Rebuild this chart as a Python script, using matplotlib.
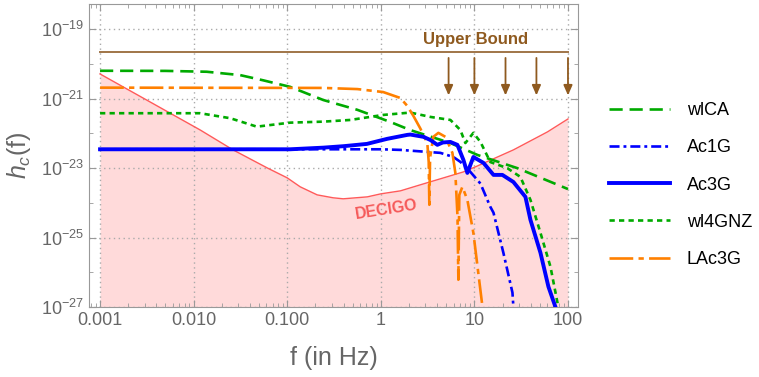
import matplotlib
matplotlib.use('Agg')
from matplotlib import pyplot as plt
from matplotlib.ticker import LogLocator, NullFormatter

plt.rcParams['font.family'] = ['Liberation Sans', 'DejaVu Sans']
plt.rcParams['mathtext.fontset'] = 'custom'
plt.rcParams['mathtext.rm'] = 'Liberation Sans'
plt.rcParams['mathtext.it'] = 'Liberation Sans:italic'
plt.rcParams['mathtext.bf'] = 'Liberation Sans:bold'

# Characteristic strain h_c(f).
wlca_f = [0.001, 0.005, 0.0138, 0.0314, 0.0553, 0.1076, 0.2427, 0.561, 1.26, 2.07, 5.54, 10.8, 28.8, 100]
wlca_h = [6.4e-21, 6.35e-21, 6.0e-21, 4.8e-21, 3.4e-21, 2.2e-21, 9.2e-22, 4.8e-22, 2.15e-22, 1.25e-22,
          5.3e-23, 2.4e-23, 1.0e-23, 2.5e-24]

ac1g_f = [0.001, 0.1, 1.0, 1.62, 4.33, 5.96, 7.08, 9.06, 11.6, 14.8, 16.0, 20.4, 25.5, 26.1, 27.0]
ac1g_h = [3.5e-23, 3.5e-23, 3.5e-23, 3.36e-23, 2.76e-23, 2.1e-23, 1.52e-23, 7.8e-24, 3.6e-24, 7.7e-25,
          5.2e-25, 3.65e-26, 2.6e-27, 1.0e-27, 4e-28]

ac3g_f = [0.001, 0.1076, 0.2427, 0.4, 0.71, 1.17, 1.92, 2.07, 2.85, 3.38, 4.02, 4.6, 5.54, 6.58, 7.63,
          8.41, 9.75, 12.5, 16.0, 19.9, 26.1, 35.1, 39.7, 50.8, 61.8, 73.5, 76.0]
ac3g_h = [3.5e-23, 3.5e-23, 3.9e-23, 4.3e-23, 5.0e-23, 7.0e-23, 9.1e-23, 9.3e-23, 8.0e-23, 6.5e-23,
          4.7e-23, 5.5e-23, 5.7e-23, 4.7e-23, 1.73e-23, 7.3e-24, 2.1e-23, 1.42e-23, 6.4e-24, 6.4e-24,
          4.0e-24, 1.49e-24, 3.25e-25, 3.65e-26, 3.84e-27, 1.0e-27, 5e-28]

wl4gnz_f = [0.001, 0.0117, 0.0246, 0.0473, 0.1076, 0.2427, 0.472, 1.06, 2.07, 3.38, 5.54, 7.08, 8.01,
            9.75, 11.6, 14.8, 22.5, 31.0, 39.7, 50.8, 65.0, 77.2, 80.0]
wl4gnz_h = [3.83e-22, 3.83e-22, 2.75e-22, 1.57e-22, 2.05e-22, 2.19e-22, 2.45e-22, 3.42e-22, 4.0e-22,
            3.0e-22, 2.45e-22, 1.26e-22, 5.3e-23, 1.04e-22, 5.7e-23, 1.5e-23, 1.0e-23, 5.6e-24,
            1.22e-24, 1.37e-25, 1.44e-26, 1.33e-27, 5e-28]

lac3g_f = [0.001, 0.2427, 0.561, 1.06, 1.62, 1.92, 2.23, 2.64, 3.14, 3.25, 3.30, 3.36, 3.64, 4.12, 4.90,
           5.82, 6.26, 6.6, 6.74, 6.9, 7.44, 8.41, 9.75, 11.0, 12.2, 12.5]
lac3g_h = [2.09e-21, 2.05e-21, 1.9e-21, 1.56e-21, 1.05e-21, 6.2e-22, 3.2e-22, 1.4e-22, 5.3e-23,
           1.5e-23, 8.8e-25, 2.0e-23, 8.0e-23, 1.04e-22, 8.0e-23, 2.76e-23, 7.3e-24, 4e-25, 6.1e-27,
           1.7e-24, 2.9e-24, 1.22e-24, 1.37e-25, 9.7e-27, 1.0e-27, 5e-28]

decigo_f = [0.001, 0.01175, 0.0264, 0.061, 0.1, 0.1377, 0.209, 0.31, 0.397, 0.718, 1.0, 1.62, 2.64,
            7.63, 10.25, 26.1, 60.4, 100]
decigo_h = [5.18e-21, 1.26e-22, 3.36e-23, 1.02e-23, 5.26e-24, 2.9e-24, 1.7e-24, 1.4e-24, 1.31e-24,
            1.49e-24, 1.82e-24, 2.22e-24, 3.31e-24, 7.8e-24, 1.09e-23, 3.36e-23, 1.11e-22, 2.62e-22]

bound_f = [0.001, 100]
bound_h = [2.2e-20, 2.2e-20]
arrow_f = [5.3, 10, 21.5, 46, 100]
arrow_top = 1.5e-20
arrow_tip = 1.25e-21

x_ticks = [0.001, 0.01, 0.1, 1, 10, 100]
x_tick_labels = ['0.001', '0.010', '0.100', '1', '10', '100']
y_ticks = [1e-27, 1e-25, 1e-23, 1e-21, 1e-19]
y_tick_labels = [r'$10^{-27}$', r'$10^{-25}$', r'$10^{-23}$', r'$10^{-21}$', r'$10^{-19}$']

gray = '#666666'
green = '#00AA00'
blue = '#0000FF'
orange = '#FF8000'
brown_line = '#A07548'
brown_text = '#8F5A1F'

fig = plt.figure(figsize=(7.59, 3.77), dpi=100)
ax = fig.add_axes([89 / 759, 1 - 307 / 377, (578 - 89) / 759, (307 - 4) / 377])
ax.set_xscale('log')
ax.set_yscale('log')

# DECIGO sensitivity band
ax.fill_between(decigo_f, decigo_h, 1e-29, color='#FFDADA', lw=0, zorder=1)
ax.plot(decigo_f, decigo_h, color='#FF5A5A', lw=1.0, zorder=2)
ax.text(1.15, 6.3e-25, 'DECIGO', color='#F55A5A', fontsize=11.5, fontweight='bold',
        rotation=9, ha='center', va='center', zorder=3)

# upper bound with arrows
ax.plot(bound_f, bound_h, color=brown_line, lw=1.4, zorder=3)
for f in arrow_f:
    ax.annotate('', xy=(f, arrow_tip), xytext=(f, arrow_top),
                arrowprops=dict(arrowstyle='-|>,head_length=0.5,head_width=0.22', color=brown_text,
                                lw=1.3, mutation_scale=12, shrinkA=0, shrinkB=0), zorder=3)
ax.text(10.3, 3.8e-20, 'Upper Bound', color=brown_text, fontsize=12, fontweight='bold',
        ha='center', va='baseline')

l1, = ax.plot(wlca_f, wlca_h, color=green, lw=1.9, ls=(0, (5, 2.6)), label='wlCA', zorder=4)
l2, = ax.plot(ac1g_f, ac1g_h, color=blue, lw=1.9, ls=(0, (3.8, 1.5, 1.1, 1.5)), label='Ac1G', zorder=5)
l3, = ax.plot(ac3g_f, ac3g_h, color=blue, lw=2.8, label='Ac3G', zorder=6)
l4, = ax.plot(wl4gnz_f, wl4gnz_h, color=green, lw=1.9, ls=(0, (2, 1.6)), label='wl4GNZ', zorder=4)
l5, = ax.plot(lac3g_f, lac3g_h, color=orange, lw=1.9, ls=(0, (9, 2, 2, 2)), label='LAc3G', zorder=5)

ax.set_xlim(10 ** -3.118, 10 ** 2.107)
ax.set_ylim(1e-27, 10 ** -18.27)

ax.set_xticks(x_ticks)
ax.set_xticklabels(x_tick_labels)
ax.set_yticks(y_ticks)
ax.set_yticklabels(y_tick_labels)
ax.xaxis.set_minor_locator(LogLocator(base=10, subs=range(2, 10), numticks=20))
ax.xaxis.set_minor_formatter(NullFormatter())
ax.yaxis.set_minor_locator(LogLocator(base=10, subs=[1.0], numticks=20))
ax.yaxis.set_minor_formatter(NullFormatter())

ax.grid(True, which='major', color='#AAAAAA', ls=(0, (1, 2.5)), lw=1.0)
ax.tick_params(which='both', direction='in', top=True, right=True, colors='#999999',
               labelcolor=gray, labelsize=13)
ax.tick_params(which='major', length=5)
ax.tick_params(which='minor', length=3)
for s in ax.spines.values():
    s.set_color('#999999')

ax.set_xlabel('f (in Hz)', fontsize=18, color=gray, labelpad=12)
ax.set_ylabel(r'$h_c$(f)', fontsize=18, color=gray, labelpad=6)

fig.legend(handles=[l1, l2, l3, l4, l5], loc='center left', bbox_to_anchor=(609 / 759, 1 - 185 / 377),
           frameon=False, fontsize=13, handlelength=3.4, handletextpad=0.9, labelspacing=1.12,
           borderpad=0, borderaxespad=0)

fig.savefig('out.png', dpi=100)
